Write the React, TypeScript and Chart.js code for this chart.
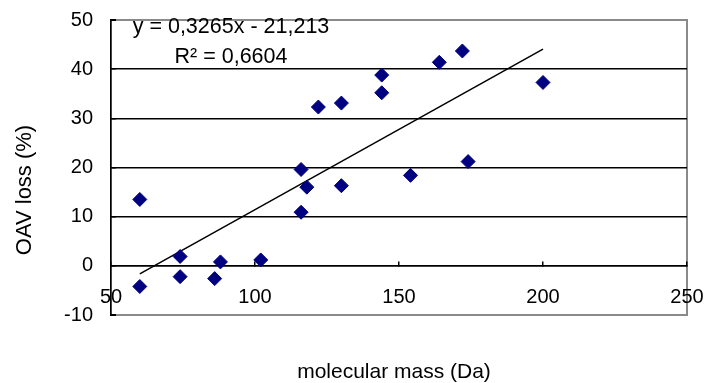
import React, { useEffect, useRef } from "react";
import { Chart, registerables } from "chart.js";

Chart.register(...registerables);

// molecular mass (Da) and OAV loss (%) of each compound
const massDa = [60, 60, 74, 74, 86, 88, 102, 116, 116, 118, 122, 130, 130, 144, 144, 154, 164, 172, 174, 200];
const oavLoss = [-4.2, 13.5, 1.9, -2.2, -2.6, 0.8, 1.2, 10.9, 19.6, 16.0, 32.3, 33.1, 16.3, 38.8, 35.2, 18.4, 41.4, 43.7, 21.2, 37.3];

// linear trendline shown in the reference
const slope = 0.3265;
const intercept = -21.213;
const equationText = "y = 0,3265x - 21,213";
const r2Text = "R² = 0,6604";

const xTicks = [50, 100, 150, 200, 250];
const yTicks = [-10, 0, 10, 20, 30, 40, 50];
const xTitle = "molecular mass (Da)";
const yTitle = "OAV loss (%)";

const FONT = "Arial, 'Liberation Sans', sans-serif";

export default function App() {
  const ref = useRef<HTMLCanvasElement | null>(null);

  useEffect(() => {
    const canvas = ref.current;
    if (!canvas) return;
    const xMin = Math.min(...massDa);
    const xMax = Math.max(...massDa);
    const points = massDa.map((x, i) => ({ x, y: oavLoss[i] }));
    const trend = [
      { x: xMin, y: slope * xMin + intercept },
      { x: xMax, y: slope * xMax + intercept },
    ];

    const decor = {
      id: "decor",
      beforeDraw(chart: any) {
        const { ctx, chartArea: a } = chart;
        ctx.save();
        ctx.strokeStyle = "#8a8a8a";
        ctx.lineWidth = 2;
        ctx.strokeRect(a.left, a.top, a.right - a.left, a.bottom - a.top);
        ctx.restore();
      },
      afterDraw(chart: any) {
        const { ctx } = chart;
        ctx.save();
        ctx.fillStyle = "#000";
        ctx.textAlign = "center";
        ctx.textBaseline = "middle";
        ctx.font = `21.5px ${FONT}`;
        ctx.fillText(equationText, 231, 27);
        ctx.fillText(r2Text, 231, 57);
        ctx.font = `21px ${FONT}`;
        ctx.fillText(xTitle, 394, 372);
        ctx.font = `22px ${FONT}`;
        ctx.translate(25, 190);
        ctx.rotate(-Math.PI / 2);
        ctx.fillText(yTitle, 0, 0);
        ctx.restore();
      },
    };

    const chart = new Chart(canvas, {
      type: "scatter",
      data: {
        datasets: [
          {
            type: "scatter",
            data: points,
            pointStyle: "rectRot",
            pointRadius: 7,
            pointHoverRadius: 7,
            backgroundColor: "#000080",
            borderColor: "#000080",
            borderWidth: 1,
            order: 1,
          },
          {
            type: "line",
            data: trend,
            borderColor: "#000",
            borderWidth: 1.5,
            pointRadius: 0,
            fill: false,
            order: 2,
          } as any,
        ],
      },
      plugins: [decor],
      options: {
        animation: false,
        responsive: false,
        devicePixelRatio: 1,
        layout: { padding: { left: 0, top: 20, right: 18, bottom: 68 } },
        plugins: { legend: { display: false }, tooltip: { enabled: false } },
        scales: {
          x: {
            type: "linear",
            position: { y: 0 } as any,
            min: 50,
            max: 250,
            afterBuildTicks: (s: any) => {
              s.ticks = xTicks.map((v) => ({ value: v }));
            },
            afterFit: (s: any) => {
              s.height = 0;
              s.paddingLeft = 0;
              s.paddingRight = 0;
              s.paddingTop = 0;
              s.paddingBottom = 0;
            },
            grid: {
              drawOnChartArea: false,
              drawTicks: true,
              tickLength: -5,
              color: "#000",
              lineWidth: 1.5,
            },
            border: { display: true, color: "#000", width: 1.5 },
            ticks: {
              color: "#000",
              font: { size: 20, family: FONT },
              padding: 25,
              maxRotation: 0,
              autoSkip: false,
            },
          },
          y: {
            type: "linear",
            position: "left",
            min: -10,
            max: 50,
            afterBuildTicks: (s: any) => {
              s.ticks = yTicks.map((v) => ({ value: v }));
            },
            afterFit: (s: any) => {
              s.width = 111;
              s.paddingLeft = 0;
              s.paddingRight = 0;
              s.paddingTop = 0;
              s.paddingBottom = 0;
            },
            grid: {
              color: (c: any) =>
                c.tick && (c.tick.value === -10 || c.tick.value === 50) ? "#8a8a8a" : "#000",
              tickColor: "#000",
              lineWidth: (c: any) =>
                c.tick && (c.tick.value === -10 || c.tick.value === 50) ? 2 : 1.5,
              drawTicks: true,
              tickLength: -5,
            },
            border: { display: true, color: "#000", width: 1.5 },
            ticks: {
              color: "#000",
              font: { size: 20, family: FONT },
              padding: 23,
              autoSkip: false,
            },
          },
        },
      },
    });
    return () => chart.destroy();
  }, []);

  return (
    <div style={{ position: "absolute", left: 0, top: 0, width: 705, height: 383, background: "#fff" }}>
      <canvas ref={ref} width={705} height={383} />
    </div>
  );
}
